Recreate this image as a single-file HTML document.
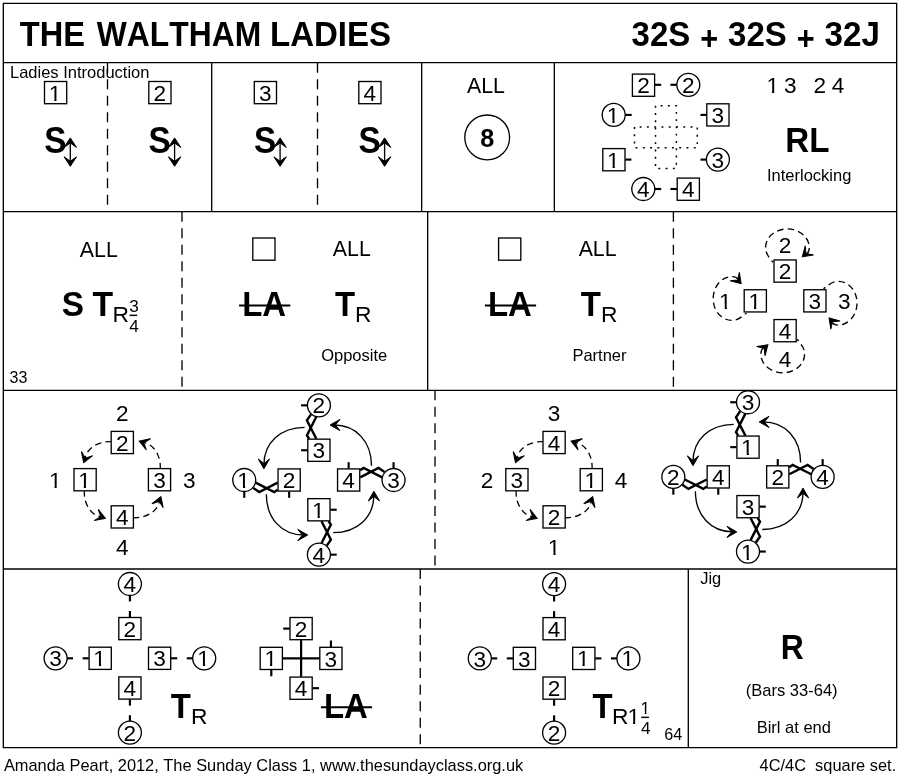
<!DOCTYPE html>
<html lang="en">
<head>
<meta charset="utf-8">
<title>The Waltham Ladies</title>
<style>
html,body{margin:0;padding:0;background:#fff;}
body{width:900px;height:780px;overflow:hidden;}
svg{display:block;font-family:"Liberation Sans", sans-serif;font-kerning:none;will-change:transform;}
svg line,svg rect,svg circle,svg path{stroke:#000;}
svg text{fill:#000;stroke:none;}
</style>
</head>
<body>
<svg width="900" height="780" viewBox="0 0 900 780">
<rect x="0" y="0" width="900" height="780" fill="#fff" stroke="none" style="stroke:none"/>
<defs>
<clipPath id="one17_2" clipPathUnits="userSpaceOnUse"><path d="M-15 -17.20 H15 V-2.18 H1.16 V3 H-0.56 V-2.18 H-15 Z"/></clipPath>
<clipPath id="one22_6" clipPathUnits="userSpaceOnUse"><path d="M-15 -22.60 H15 V-2.59 H1.50 V3 H-0.70 V-2.59 H-15 Z"/></clipPath>
</defs>
<rect x="3.33" y="3.33" width="893.34" height="744.34" fill="none" stroke-width="1.33" stroke-linejoin="round"/>
<line x1="3.33" y1="62.67" x2="896.67" y2="62.67" stroke-width="1.33" />
<line x1="3.33" y1="211.67" x2="896.67" y2="211.67" stroke-width="1.33" />
<line x1="3.33" y1="390.33" x2="896.67" y2="390.33" stroke-width="1.33" />
<line x1="3.33" y1="569.00" x2="896.67" y2="569.00" stroke-width="1.33" />
<line x1="211.70" y1="62.67" x2="211.70" y2="211.67" stroke-width="1.33" />
<line x1="421.67" y1="62.67" x2="421.67" y2="211.67" stroke-width="1.33" />
<line x1="554.33" y1="62.67" x2="554.33" y2="211.67" stroke-width="1.33" />
<line x1="107.50" y1="62.67" x2="107.50" y2="211.67" stroke-width="1.33" stroke-dasharray="10 6.52"/>
<line x1="317.50" y1="62.67" x2="317.50" y2="211.67" stroke-width="1.33" stroke-dasharray="10 6.52"/>
<line x1="427.67" y1="211.67" x2="427.67" y2="390.33" stroke-width="1.33" />
<line x1="182.00" y1="211.67" x2="182.00" y2="390.33" stroke-width="1.33" stroke-dasharray="10 6.52"/>
<line x1="673.40" y1="211.67" x2="673.40" y2="390.33" stroke-width="1.33" stroke-dasharray="10 6.52"/>
<line x1="435.00" y1="390.33" x2="435.00" y2="569.00" stroke-width="1.33" stroke-dasharray="10 6.52"/>
<line x1="420.25" y1="569.00" x2="420.25" y2="747.67" stroke-width="1.33" stroke-dasharray="10 6.52"/>
<line x1="688.30" y1="569.00" x2="688.30" y2="747.67" stroke-width="1.33" />
<text transform="translate(19.80 45.90) scale(0.9497 1)" font-size="34.3" font-weight="bold" text-anchor="start">THE</text>
<text transform="translate(96.80 45.90) scale(0.928 1)" font-size="34.3" font-weight="bold" text-anchor="start">WALTHAM</text>
<text transform="translate(270.00 45.90) scale(0.963 1)" font-size="34.3" font-weight="bold" text-anchor="start">LADIES</text>
<text transform="translate(631.60 45.90) scale(0.9623 1)" font-size="34.3" font-weight="bold" text-anchor="start">32S</text>
<text transform="translate(700.20 50.20) scale(0.93 1)" font-size="33.0" font-weight="bold" text-anchor="start">+</text>
<text transform="translate(728.10 45.90) scale(0.9623 1)" font-size="34.3" font-weight="bold" text-anchor="start">32S</text>
<text transform="translate(796.70 50.20) scale(0.93 1)" font-size="33.0" font-weight="bold" text-anchor="start">+</text>
<text transform="translate(824.60 45.90) scale(0.968 1)" font-size="34.3" font-weight="bold" text-anchor="start">32J</text>
<text x="10.00" y="77.60" font-size="16.5" text-anchor="start" >Ladies Introduction</text>
<rect x="44.50" y="81.50" width="22.2" height="22.2" fill="none" stroke-width="1.33"/>
<g transform="translate(55.00 101.00)" clip-path="url(#one22_6)"><text font-size="22.6" text-anchor="middle">1</text></g>
<text transform="translate(44.20 152.60) scale(0.9 1)" font-size="37" font-weight="bold" text-anchor="start">S</text>
<line x1="70.30" y1="141.00" x2="70.30" y2="163.00" stroke-width="1.33" />
<path d="M0 0 L-9.5 -6.2 L-5.0 0 L-9.5 6.2 Z" fill="#000" stroke="none" transform="translate(70.30 137.90) rotate(-90.00)"/>
<path d="M0 0 L-9.5 -6.2 L-5.0 0 L-9.5 6.2 Z" fill="#000" stroke="none" transform="translate(70.30 166.30) rotate(90.00)"/>
<rect x="148.80" y="81.50" width="22.2" height="22.2" fill="none" stroke-width="1.33"/>
<text x="159.90" y="100.70" font-size="22.6" text-anchor="middle" >2</text>
<text transform="translate(148.50 152.60) scale(0.9 1)" font-size="37" font-weight="bold" text-anchor="start">S</text>
<line x1="174.60" y1="141.00" x2="174.60" y2="163.00" stroke-width="1.33" />
<path d="M0 0 L-9.5 -6.2 L-5.0 0 L-9.5 6.2 Z" fill="#000" stroke="none" transform="translate(174.60 137.90) rotate(-90.00)"/>
<path d="M0 0 L-9.5 -6.2 L-5.0 0 L-9.5 6.2 Z" fill="#000" stroke="none" transform="translate(174.60 166.30) rotate(90.00)"/>
<rect x="254.30" y="81.50" width="22.2" height="22.2" fill="none" stroke-width="1.33"/>
<text x="265.40" y="100.70" font-size="22.6" text-anchor="middle" >3</text>
<text transform="translate(254.00 152.60) scale(0.9 1)" font-size="37" font-weight="bold" text-anchor="start">S</text>
<line x1="280.10" y1="141.00" x2="280.10" y2="163.00" stroke-width="1.33" />
<path d="M0 0 L-9.5 -6.2 L-5.0 0 L-9.5 6.2 Z" fill="#000" stroke="none" transform="translate(280.10 137.90) rotate(-90.00)"/>
<path d="M0 0 L-9.5 -6.2 L-5.0 0 L-9.5 6.2 Z" fill="#000" stroke="none" transform="translate(280.10 166.30) rotate(90.00)"/>
<rect x="358.80" y="81.50" width="22.2" height="22.2" fill="none" stroke-width="1.33"/>
<text x="369.90" y="100.70" font-size="22.6" text-anchor="middle" >4</text>
<text transform="translate(358.50 152.60) scale(0.9 1)" font-size="37" font-weight="bold" text-anchor="start">S</text>
<line x1="384.60" y1="141.00" x2="384.60" y2="163.00" stroke-width="1.33" />
<path d="M0 0 L-9.5 -6.2 L-5.0 0 L-9.5 6.2 Z" fill="#000" stroke="none" transform="translate(384.60 137.90) rotate(-90.00)"/>
<path d="M0 0 L-9.5 -6.2 L-5.0 0 L-9.5 6.2 Z" fill="#000" stroke="none" transform="translate(384.60 166.30) rotate(90.00)"/>
<text x="485.90" y="92.70" font-size="21.3" text-anchor="middle" >ALL</text>
<circle cx="487.2" cy="137.4" r="22.4" fill="none" stroke-width="1.33"/>
<text transform="translate(487.25 146.70) scale(0.97 1)" font-size="26" font-weight="bold" text-anchor="middle">8</text>
<rect x="632.40" y="74.10" width="22.2" height="22.2" fill="none" stroke-width="1.33"/>
<text x="643.50" y="93.30" font-size="22.6" text-anchor="middle" >2</text>
<line x1="654.60" y1="84.80" x2="661.20" y2="84.80" stroke-width="2.15" />
<circle cx="688.30" cy="84.80" r="11.5" fill="none" stroke-width="1.33"/>
<text x="688.30" y="92.90" font-size="22.6" text-anchor="middle" >2</text>
<line x1="670.40" y1="84.80" x2="676.80" y2="84.80" stroke-width="2.15" />
<circle cx="613.70" cy="114.90" r="11.5" fill="none" stroke-width="1.33"/>
<g transform="translate(613.10 123.00)" clip-path="url(#one22_6)"><text font-size="22.6" text-anchor="middle">1</text></g>
<line x1="625.30" y1="114.90" x2="631.70" y2="114.90" stroke-width="2.15" />
<rect x="706.80" y="103.80" width="22.2" height="22.2" fill="none" stroke-width="1.33"/>
<text x="717.90" y="123.00" font-size="22.6" text-anchor="middle" >3</text>
<line x1="700.50" y1="114.90" x2="706.70" y2="114.90" stroke-width="2.15" />
<rect x="602.80" y="148.60" width="22.2" height="22.2" fill="none" stroke-width="1.33"/>
<g transform="translate(613.30 168.00)" clip-path="url(#one22_6)"><text font-size="22.6" text-anchor="middle">1</text></g>
<line x1="625.30" y1="159.60" x2="631.40" y2="159.60" stroke-width="2.15" />
<circle cx="717.90" cy="159.60" r="11.5" fill="none" stroke-width="1.33"/>
<text x="717.90" y="167.70" font-size="22.6" text-anchor="middle" >3</text>
<line x1="700.50" y1="159.60" x2="706.40" y2="159.60" stroke-width="2.15" />
<circle cx="643.30" cy="189.00" r="11.5" fill="none" stroke-width="1.33"/>
<text x="643.30" y="197.10" font-size="22.6" text-anchor="middle" >4</text>
<line x1="654.80" y1="189.00" x2="661.20" y2="189.00" stroke-width="2.15" />
<rect x="677.20" y="178.10" width="22.2" height="22.2" fill="none" stroke-width="1.33"/>
<text x="688.30" y="197.30" font-size="22.6" text-anchor="middle" >4</text>
<line x1="670.40" y1="189.00" x2="676.90" y2="189.00" stroke-width="2.15" />
<path d="M655.5 105.8 V168.5 H676.4 V105.8 Z" fill="none" stroke-width="1.5" stroke-dasharray="1.9 5.38"/>
<path d="M634.5 127.0 V147.8 H697.3 V127.0 Z" fill="none" stroke-width="1.5" stroke-dasharray="1.9 5.38"/>
<g transform="translate(772.70 93.00)" clip-path="url(#one22_6)"><text font-size="22.6" text-anchor="middle">1</text></g>
<text x="790.30" y="93.00" font-size="22.6" text-anchor="middle" >3</text>
<text x="819.90" y="93.00" font-size="22.6" text-anchor="middle" >2</text>
<text x="838.10" y="93.00" font-size="22.6" text-anchor="middle" >4</text>
<text transform="translate(785.30 151.80) scale(0.967 1)" font-size="34.3" font-weight="bold" text-anchor="start">RL</text>
<text x="809.20" y="181.40" font-size="16.5" text-anchor="middle" >Interlocking</text>
<text x="98.80" y="256.50" font-size="21.3" text-anchor="middle" >ALL</text>
<text transform="translate(61.80 316.30) scale(0.94 1)" font-size="35.5" font-weight="bold" text-anchor="start">S</text>
<text transform="translate(92.60 316.00) scale(0.985 1)" font-size="34.3" font-weight="bold" text-anchor="start">T</text>
<text x="112.60" y="321.90" font-size="22.8" text-anchor="start" >R</text>
<text x="134.15" y="312.05" font-size="17.2" text-anchor="middle" >3</text>
<line x1="129.50" y1="315.35" x2="137.20" y2="315.35" stroke-width="1.45" />
<text x="134.15" y="331.80" font-size="17.2" text-anchor="middle" >4</text>
<text x="9.60" y="382.60" font-size="16" text-anchor="start" >33</text>
<rect x="252.80" y="238.00" width="22.2" height="22.2" fill="none" stroke-width="1.33"/>
<text x="351.80" y="256.30" font-size="21.3" text-anchor="middle" >ALL</text>
<text transform="translate(242.20 316.20) scale(0.96 1)" font-size="34.3" font-weight="bold" text-anchor="start">LA</text>
<line x1="239.10" y1="305.50" x2="290.30" y2="305.50" stroke-width="2.1" />
<text transform="translate(334.90 316.20) scale(0.96 1)" font-size="34.3" font-weight="bold" text-anchor="start">T</text>
<text x="355.10" y="322.00" font-size="22.8" text-anchor="start" >R</text>
<rect x="498.60" y="238.00" width="22.2" height="22.2" fill="none" stroke-width="1.33"/>
<text x="597.60" y="256.30" font-size="21.3" text-anchor="middle" >ALL</text>
<text transform="translate(488.00 316.20) scale(0.96 1)" font-size="34.3" font-weight="bold" text-anchor="start">LA</text>
<line x1="484.90" y1="305.50" x2="536.10" y2="305.50" stroke-width="2.1" />
<text transform="translate(580.70 316.20) scale(0.96 1)" font-size="34.3" font-weight="bold" text-anchor="start">T</text>
<text x="600.90" y="322.00" font-size="22.8" text-anchor="start" >R</text>
<text x="354.20" y="360.50" font-size="16.5" text-anchor="middle" >Opposite</text>
<text x="599.50" y="360.50" font-size="16.5" text-anchor="middle" >Partner</text>
<rect x="774.00" y="259.95" width="22.2" height="22.2" fill="none" stroke-width="1.33"/>
<text x="785.10" y="279.15" font-size="22.6" text-anchor="middle" >2</text>
<rect x="744.20" y="289.75" width="22.2" height="22.2" fill="none" stroke-width="1.33"/>
<g transform="translate(754.70 309.00)" clip-path="url(#one22_6)"><text font-size="22.6" text-anchor="middle">1</text></g>
<rect x="803.80" y="289.75" width="22.2" height="22.2" fill="none" stroke-width="1.33"/>
<text x="814.90" y="308.95" font-size="22.6" text-anchor="middle" >3</text>
<rect x="774.00" y="319.55" width="22.2" height="22.2" fill="none" stroke-width="1.33"/>
<text x="785.10" y="338.75" font-size="22.6" text-anchor="middle" >4</text>
<text x="785.10" y="253.25" font-size="22.6" text-anchor="middle" >2</text>
<g transform="translate(725.40 309.00)" clip-path="url(#one22_6)"><text font-size="22.6" text-anchor="middle">1</text></g>
<text x="844.30" y="309.45" font-size="22.6" text-anchor="middle" >3</text>
<text x="785.10" y="366.55" font-size="22.6" text-anchor="middle" >4</text>
<g transform="translate(785.1 300.85) rotate(0)">
<path d="M-12.1 -38.4 C-15.1 -42.7 -19.5 -46.7 -19.5 -53.2 C-19.5 -63.7 -9.8 -71.9 2.1 -71.9 C14.2 -71.9 24.2 -63.7 24.2 -53.2 C24.2 -49.7 23.4 -48.2 21.6 -47.1" fill="none" stroke-width="1.33" stroke-dasharray="6.5 4.1" stroke-dashoffset="4.1"/>
<path d="M0 0 L-9.5 -6.2 L-5.0 0 L-9.5 6.2 Z" fill="#000" stroke="none" transform="translate(17.20 -44.00) rotate(138.00)"/>
</g>
<g transform="translate(785.1 300.85) rotate(-90)">
<path d="M-12.1 -38.4 C-15.1 -42.7 -19.5 -46.7 -19.5 -53.2 C-19.5 -63.7 -9.8 -71.9 2.1 -71.9 C14.2 -71.9 24.2 -63.7 24.2 -53.2 C24.2 -49.7 23.4 -48.2 21.6 -47.1" fill="none" stroke-width="1.33" stroke-dasharray="6.5 4.1" stroke-dashoffset="4.1"/>
<path d="M0 0 L-9.5 -6.2 L-5.0 0 L-9.5 6.2 Z" fill="#000" stroke="none" transform="translate(17.20 -44.00) rotate(138.00)"/>
</g>
<g transform="translate(785.1 300.85) rotate(180)">
<path d="M-12.1 -38.4 C-15.1 -42.7 -19.5 -46.7 -19.5 -53.2 C-19.5 -63.7 -9.8 -71.9 2.1 -71.9 C14.2 -71.9 24.2 -63.7 24.2 -53.2 C24.2 -49.7 23.4 -48.2 21.6 -47.1" fill="none" stroke-width="1.33" stroke-dasharray="6.5 4.1" stroke-dashoffset="4.1"/>
<path d="M0 0 L-9.5 -6.2 L-5.0 0 L-9.5 6.2 Z" fill="#000" stroke="none" transform="translate(17.20 -44.00) rotate(138.00)"/>
</g>
<g transform="translate(785.1 300.85) rotate(90)">
<path d="M-12.1 -38.4 C-15.1 -42.7 -19.5 -46.7 -19.5 -53.2 C-19.5 -63.7 -9.8 -71.9 2.1 -71.9 C14.2 -71.9 24.2 -63.7 24.2 -53.2 C24.2 -49.7 23.4 -48.2 21.6 -47.1" fill="none" stroke-width="1.33" stroke-dasharray="6.5 4.1" stroke-dashoffset="4.1"/>
<path d="M0 0 L-9.5 -6.2 L-5.0 0 L-9.5 6.2 Z" fill="#000" stroke="none" transform="translate(17.20 -44.00) rotate(138.00)"/>
</g>
<rect x="111.20" y="431.40" width="22.2" height="22.2" fill="none" stroke-width="1.33"/>
<text x="122.30" y="450.60" font-size="22.6" text-anchor="middle" >2</text>
<rect x="74.00" y="468.60" width="22.2" height="22.2" fill="none" stroke-width="1.33"/>
<g transform="translate(84.50 488.00)" clip-path="url(#one22_6)"><text font-size="22.6" text-anchor="middle">1</text></g>
<rect x="148.40" y="468.60" width="22.2" height="22.2" fill="none" stroke-width="1.33"/>
<text x="159.50" y="487.80" font-size="22.6" text-anchor="middle" >3</text>
<rect x="111.20" y="505.80" width="22.2" height="22.2" fill="none" stroke-width="1.33"/>
<text x="122.30" y="525.00" font-size="22.6" text-anchor="middle" >4</text>
<text x="122.30" y="421.00" font-size="22.6" text-anchor="middle" >2</text>
<g transform="translate(55.20 488.00)" clip-path="url(#one22_6)"><text font-size="22.6" text-anchor="middle">1</text></g>
<text x="189.30" y="488.10" font-size="22.6" text-anchor="middle" >3</text>
<text x="122.30" y="555.40" font-size="22.6" text-anchor="middle" >4</text>
<g transform="rotate(0 122.3 479.7)">
<path d="M110.80 441.70 C96.30 441.20 85.80 450.20 85.30 458.30" fill="none" stroke-width="1.33" stroke-dasharray="6.3 4.2" stroke-dashoffset="0.9"/>
<path d="M0 0 L-9.7 -6.0 L-4.8 0 L-9.7 6.0 Z" fill="#000" stroke="none" transform="translate(83.70 462.70) rotate(110.00)"/>
</g>
<g transform="rotate(-90 122.3 479.7)">
<path d="M110.80 441.70 C96.30 441.20 85.80 450.20 85.30 458.30" fill="none" stroke-width="1.33" stroke-dasharray="6.3 4.2" stroke-dashoffset="0.9"/>
<path d="M0 0 L-9.7 -6.0 L-4.8 0 L-9.7 6.0 Z" fill="#000" stroke="none" transform="translate(83.70 462.70) rotate(110.00)"/>
</g>
<g transform="rotate(180 122.3 479.7)">
<path d="M110.80 441.70 C96.30 441.20 85.80 450.20 85.30 458.30" fill="none" stroke-width="1.33" stroke-dasharray="6.3 4.2" stroke-dashoffset="0.9"/>
<path d="M0 0 L-9.7 -6.0 L-4.8 0 L-9.7 6.0 Z" fill="#000" stroke="none" transform="translate(83.70 462.70) rotate(110.00)"/>
</g>
<g transform="rotate(90 122.3 479.7)">
<path d="M110.80 441.70 C96.30 441.20 85.80 450.20 85.30 458.30" fill="none" stroke-width="1.33" stroke-dasharray="6.3 4.2" stroke-dashoffset="0.9"/>
<path d="M0 0 L-9.7 -6.0 L-4.8 0 L-9.7 6.0 Z" fill="#000" stroke="none" transform="translate(83.70 462.70) rotate(110.00)"/>
</g>
<rect x="543.00" y="431.40" width="22.2" height="22.2" fill="none" stroke-width="1.33"/>
<text x="554.10" y="450.60" font-size="22.6" text-anchor="middle" >4</text>
<rect x="505.80" y="468.60" width="22.2" height="22.2" fill="none" stroke-width="1.33"/>
<text x="516.90" y="487.80" font-size="22.6" text-anchor="middle" >3</text>
<rect x="580.20" y="468.60" width="22.2" height="22.2" fill="none" stroke-width="1.33"/>
<g transform="translate(590.70 488.00)" clip-path="url(#one22_6)"><text font-size="22.6" text-anchor="middle">1</text></g>
<rect x="543.00" y="505.80" width="22.2" height="22.2" fill="none" stroke-width="1.33"/>
<text x="554.10" y="525.00" font-size="22.6" text-anchor="middle" >2</text>
<text x="554.10" y="421.00" font-size="22.6" text-anchor="middle" >3</text>
<text x="487.00" y="488.10" font-size="22.6" text-anchor="middle" >2</text>
<text x="621.10" y="488.10" font-size="22.6" text-anchor="middle" >4</text>
<g transform="translate(554.10 555.00)" clip-path="url(#one22_6)"><text font-size="22.6" text-anchor="middle">1</text></g>
<g transform="rotate(0 554.1 479.7)">
<path d="M542.60 441.70 C528.10 441.20 517.60 450.20 517.10 458.30" fill="none" stroke-width="1.33" stroke-dasharray="6.3 4.2" stroke-dashoffset="0.9"/>
<path d="M0 0 L-9.7 -6.0 L-4.8 0 L-9.7 6.0 Z" fill="#000" stroke="none" transform="translate(515.50 462.70) rotate(110.00)"/>
</g>
<g transform="rotate(-90 554.1 479.7)">
<path d="M542.60 441.70 C528.10 441.20 517.60 450.20 517.10 458.30" fill="none" stroke-width="1.33" stroke-dasharray="6.3 4.2" stroke-dashoffset="0.9"/>
<path d="M0 0 L-9.7 -6.0 L-4.8 0 L-9.7 6.0 Z" fill="#000" stroke="none" transform="translate(515.50 462.70) rotate(110.00)"/>
</g>
<g transform="rotate(180 554.1 479.7)">
<path d="M542.60 441.70 C528.10 441.20 517.60 450.20 517.10 458.30" fill="none" stroke-width="1.33" stroke-dasharray="6.3 4.2" stroke-dashoffset="0.9"/>
<path d="M0 0 L-9.7 -6.0 L-4.8 0 L-9.7 6.0 Z" fill="#000" stroke="none" transform="translate(515.50 462.70) rotate(110.00)"/>
</g>
<g transform="rotate(90 554.1 479.7)">
<path d="M542.60 441.70 C528.10 441.20 517.60 450.20 517.10 458.30" fill="none" stroke-width="1.33" stroke-dasharray="6.3 4.2" stroke-dashoffset="0.9"/>
<path d="M0 0 L-9.7 -6.0 L-4.8 0 L-9.7 6.0 Z" fill="#000" stroke="none" transform="translate(515.50 462.70) rotate(110.00)"/>
</g>
<g transform="rotate(0 318.9 480.0)">
<circle cx="318.90" cy="405.35" r="11.5" fill="none" stroke-width="1.33"/>
<rect x="307.80" y="439.15" width="22.2" height="22.2" fill="none" stroke-width="1.33"/>
<line x1="301.10" y1="405.35" x2="307.20" y2="405.35" stroke-width="2.15" />
<line x1="301.10" y1="450.25" x2="307.40" y2="450.25" stroke-width="2.15" />
<path d="M311.00 414.35 L306.90 420.35 L316.30 438.75" fill="none" stroke-width="2.4" stroke-linejoin="miter"/>
<path d="M316.30 416.75 L306.90 435.35 L309.20 438.75" fill="none" stroke-width="2.4" stroke-linejoin="miter"/>
<path d="M304.60 427.40 C280.60 427.40 263.90 442.80 263.90 464.80" fill="none" stroke-width="1.33"/>
<path d="M0 0 L-9.8 -5.6 L-5.3 0 L-9.8 5.6 Z" fill="#000" stroke="none" transform="translate(263.90 468.80) rotate(90.00)"/>
</g>
<g transform="rotate(-90 318.9 480.0)">
<circle cx="318.90" cy="405.35" r="11.5" fill="none" stroke-width="1.33"/>
<rect x="307.80" y="439.15" width="22.2" height="22.2" fill="none" stroke-width="1.33"/>
<line x1="301.10" y1="405.35" x2="307.20" y2="405.35" stroke-width="2.15" />
<line x1="301.10" y1="450.25" x2="307.40" y2="450.25" stroke-width="2.15" />
<path d="M311.00 414.35 L306.90 420.35 L316.30 438.75" fill="none" stroke-width="2.4" stroke-linejoin="miter"/>
<path d="M316.30 416.75 L306.90 435.35 L309.20 438.75" fill="none" stroke-width="2.4" stroke-linejoin="miter"/>
<path d="M304.60 427.40 C280.60 427.40 263.90 442.80 263.90 464.80" fill="none" stroke-width="1.33"/>
<path d="M0 0 L-9.8 -5.6 L-5.3 0 L-9.8 5.6 Z" fill="#000" stroke="none" transform="translate(263.90 468.80) rotate(90.00)"/>
</g>
<g transform="rotate(180 318.9 480.0)">
<circle cx="318.90" cy="405.35" r="11.5" fill="none" stroke-width="1.33"/>
<rect x="307.80" y="439.15" width="22.2" height="22.2" fill="none" stroke-width="1.33"/>
<line x1="301.10" y1="405.35" x2="307.20" y2="405.35" stroke-width="2.15" />
<line x1="301.10" y1="450.25" x2="307.40" y2="450.25" stroke-width="2.15" />
<path d="M311.00 414.35 L306.90 420.35 L316.30 438.75" fill="none" stroke-width="2.4" stroke-linejoin="miter"/>
<path d="M316.30 416.75 L306.90 435.35 L309.20 438.75" fill="none" stroke-width="2.4" stroke-linejoin="miter"/>
<path d="M304.60 427.40 C280.60 427.40 263.90 442.80 263.90 464.80" fill="none" stroke-width="1.33"/>
<path d="M0 0 L-9.8 -5.6 L-5.3 0 L-9.8 5.6 Z" fill="#000" stroke="none" transform="translate(263.90 468.80) rotate(90.00)"/>
</g>
<g transform="rotate(90 318.9 480.0)">
<circle cx="318.90" cy="405.35" r="11.5" fill="none" stroke-width="1.33"/>
<rect x="307.80" y="439.15" width="22.2" height="22.2" fill="none" stroke-width="1.33"/>
<line x1="301.10" y1="405.35" x2="307.20" y2="405.35" stroke-width="2.15" />
<line x1="301.10" y1="450.25" x2="307.40" y2="450.25" stroke-width="2.15" />
<path d="M311.00 414.35 L306.90 420.35 L316.30 438.75" fill="none" stroke-width="2.4" stroke-linejoin="miter"/>
<path d="M316.30 416.75 L306.90 435.35 L309.20 438.75" fill="none" stroke-width="2.4" stroke-linejoin="miter"/>
<path d="M304.60 427.40 C280.60 427.40 263.90 442.80 263.90 464.80" fill="none" stroke-width="1.33"/>
<path d="M0 0 L-9.8 -5.6 L-5.3 0 L-9.8 5.6 Z" fill="#000" stroke="none" transform="translate(263.90 468.80) rotate(90.00)"/>
</g>
<text x="318.90" y="413.45" font-size="22.6" text-anchor="middle" >2</text>
<g transform="translate(243.65 488.00)" clip-path="url(#one22_6)"><text font-size="22.6" text-anchor="middle">1</text></g>
<text x="393.55" y="488.10" font-size="22.6" text-anchor="middle" >3</text>
<text x="318.90" y="562.75" font-size="22.6" text-anchor="middle" >4</text>
<text x="318.90" y="458.35" font-size="22.6" text-anchor="middle" >3</text>
<text x="289.15" y="488.10" font-size="22.6" text-anchor="middle" >2</text>
<text x="348.65" y="488.10" font-size="22.6" text-anchor="middle" >4</text>
<g transform="translate(318.30 518.00)" clip-path="url(#one22_6)"><text font-size="22.6" text-anchor="middle">1</text></g>
<g transform="rotate(0 748.0 476.9)">
<circle cx="748.00" cy="402.25" r="11.5" fill="none" stroke-width="1.33"/>
<rect x="736.90" y="436.05" width="22.2" height="22.2" fill="none" stroke-width="1.33"/>
<line x1="730.20" y1="402.25" x2="736.30" y2="402.25" stroke-width="2.15" />
<line x1="730.20" y1="447.15" x2="736.50" y2="447.15" stroke-width="2.15" />
<path d="M740.10 411.25 L736.00 417.25 L745.40 435.65" fill="none" stroke-width="2.4" stroke-linejoin="miter"/>
<path d="M745.40 413.65 L736.00 432.25 L738.30 435.65" fill="none" stroke-width="2.4" stroke-linejoin="miter"/>
<path d="M733.70 424.30 C709.70 424.30 693.00 439.70 693.00 461.70" fill="none" stroke-width="1.33"/>
<path d="M0 0 L-9.8 -5.6 L-5.3 0 L-9.8 5.6 Z" fill="#000" stroke="none" transform="translate(693.00 465.70) rotate(90.00)"/>
</g>
<g transform="rotate(-90 748.0 476.9)">
<circle cx="748.00" cy="402.25" r="11.5" fill="none" stroke-width="1.33"/>
<rect x="736.90" y="436.05" width="22.2" height="22.2" fill="none" stroke-width="1.33"/>
<line x1="730.20" y1="402.25" x2="736.30" y2="402.25" stroke-width="2.15" />
<line x1="730.20" y1="447.15" x2="736.50" y2="447.15" stroke-width="2.15" />
<path d="M740.10 411.25 L736.00 417.25 L745.40 435.65" fill="none" stroke-width="2.4" stroke-linejoin="miter"/>
<path d="M745.40 413.65 L736.00 432.25 L738.30 435.65" fill="none" stroke-width="2.4" stroke-linejoin="miter"/>
<path d="M733.70 424.30 C709.70 424.30 693.00 439.70 693.00 461.70" fill="none" stroke-width="1.33"/>
<path d="M0 0 L-9.8 -5.6 L-5.3 0 L-9.8 5.6 Z" fill="#000" stroke="none" transform="translate(693.00 465.70) rotate(90.00)"/>
</g>
<g transform="rotate(180 748.0 476.9)">
<circle cx="748.00" cy="402.25" r="11.5" fill="none" stroke-width="1.33"/>
<rect x="736.90" y="436.05" width="22.2" height="22.2" fill="none" stroke-width="1.33"/>
<line x1="730.20" y1="402.25" x2="736.30" y2="402.25" stroke-width="2.15" />
<line x1="730.20" y1="447.15" x2="736.50" y2="447.15" stroke-width="2.15" />
<path d="M740.10 411.25 L736.00 417.25 L745.40 435.65" fill="none" stroke-width="2.4" stroke-linejoin="miter"/>
<path d="M745.40 413.65 L736.00 432.25 L738.30 435.65" fill="none" stroke-width="2.4" stroke-linejoin="miter"/>
<path d="M733.70 424.30 C709.70 424.30 693.00 439.70 693.00 461.70" fill="none" stroke-width="1.33"/>
<path d="M0 0 L-9.8 -5.6 L-5.3 0 L-9.8 5.6 Z" fill="#000" stroke="none" transform="translate(693.00 465.70) rotate(90.00)"/>
</g>
<g transform="rotate(90 748.0 476.9)">
<circle cx="748.00" cy="402.25" r="11.5" fill="none" stroke-width="1.33"/>
<rect x="736.90" y="436.05" width="22.2" height="22.2" fill="none" stroke-width="1.33"/>
<line x1="730.20" y1="402.25" x2="736.30" y2="402.25" stroke-width="2.15" />
<line x1="730.20" y1="447.15" x2="736.50" y2="447.15" stroke-width="2.15" />
<path d="M740.10 411.25 L736.00 417.25 L745.40 435.65" fill="none" stroke-width="2.4" stroke-linejoin="miter"/>
<path d="M745.40 413.65 L736.00 432.25 L738.30 435.65" fill="none" stroke-width="2.4" stroke-linejoin="miter"/>
<path d="M733.70 424.30 C709.70 424.30 693.00 439.70 693.00 461.70" fill="none" stroke-width="1.33"/>
<path d="M0 0 L-9.8 -5.6 L-5.3 0 L-9.8 5.6 Z" fill="#000" stroke="none" transform="translate(693.00 465.70) rotate(90.00)"/>
</g>
<text x="748.00" y="410.35" font-size="22.6" text-anchor="middle" >3</text>
<text x="673.35" y="485.00" font-size="22.6" text-anchor="middle" >2</text>
<text x="822.65" y="485.00" font-size="22.6" text-anchor="middle" >4</text>
<g transform="translate(747.40 560.00)" clip-path="url(#one22_6)"><text font-size="22.6" text-anchor="middle">1</text></g>
<g transform="translate(747.40 455.00)" clip-path="url(#one22_6)"><text font-size="22.6" text-anchor="middle">1</text></g>
<text x="718.25" y="485.00" font-size="22.6" text-anchor="middle" >4</text>
<text x="777.75" y="485.00" font-size="22.6" text-anchor="middle" >2</text>
<text x="748.00" y="514.75" font-size="22.6" text-anchor="middle" >3</text>
<g transform="rotate(0 129.9 658.3)">
<circle cx="129.90" cy="584.00" r="11.5" fill="none" stroke-width="1.33"/>
<rect x="118.80" y="617.50" width="22.2" height="22.2" fill="none" stroke-width="1.33"/>
<line x1="129.90" y1="595.50" x2="129.90" y2="601.40" stroke-width="2.15" />
<line x1="129.90" y1="617.20" x2="129.90" y2="611.00" stroke-width="2.15" />
</g>
<g transform="rotate(-90 129.9 658.3)">
<circle cx="129.90" cy="584.00" r="11.5" fill="none" stroke-width="1.33"/>
<rect x="118.80" y="617.50" width="22.2" height="22.2" fill="none" stroke-width="1.33"/>
<line x1="129.90" y1="595.50" x2="129.90" y2="601.40" stroke-width="2.15" />
<line x1="129.90" y1="617.20" x2="129.90" y2="611.00" stroke-width="2.15" />
</g>
<g transform="rotate(180 129.9 658.3)">
<circle cx="129.90" cy="584.00" r="11.5" fill="none" stroke-width="1.33"/>
<rect x="118.80" y="617.50" width="22.2" height="22.2" fill="none" stroke-width="1.33"/>
<line x1="129.90" y1="595.50" x2="129.90" y2="601.40" stroke-width="2.15" />
<line x1="129.90" y1="617.20" x2="129.90" y2="611.00" stroke-width="2.15" />
</g>
<g transform="rotate(90 129.9 658.3)">
<circle cx="129.90" cy="584.00" r="11.5" fill="none" stroke-width="1.33"/>
<rect x="118.80" y="617.50" width="22.2" height="22.2" fill="none" stroke-width="1.33"/>
<line x1="129.90" y1="595.50" x2="129.90" y2="601.40" stroke-width="2.15" />
<line x1="129.90" y1="617.20" x2="129.90" y2="611.00" stroke-width="2.15" />
</g>
<text x="129.90" y="592.10" font-size="22.6" text-anchor="middle" >4</text>
<text x="55.60" y="666.40" font-size="22.6" text-anchor="middle" >3</text>
<g transform="translate(203.60 666.00)" clip-path="url(#one22_6)"><text font-size="22.6" text-anchor="middle">1</text></g>
<text x="129.90" y="740.70" font-size="22.6" text-anchor="middle" >2</text>
<text x="129.90" y="636.70" font-size="22.6" text-anchor="middle" >2</text>
<g transform="translate(99.60 666.00)" clip-path="url(#one22_6)"><text font-size="22.6" text-anchor="middle">1</text></g>
<text x="159.60" y="666.40" font-size="22.6" text-anchor="middle" >3</text>
<text x="129.90" y="696.10" font-size="22.6" text-anchor="middle" >4</text>
<text transform="translate(170.80 718.00) scale(0.96 1)" font-size="34.3" font-weight="bold" text-anchor="start">T</text>
<text x="191.00" y="723.80" font-size="22.8" text-anchor="start" >R</text>
<g transform="rotate(0 554.1 658.4)">
<circle cx="554.10" cy="584.10" r="11.5" fill="none" stroke-width="1.33"/>
<rect x="543.00" y="617.60" width="22.2" height="22.2" fill="none" stroke-width="1.33"/>
<line x1="554.10" y1="595.60" x2="554.10" y2="601.50" stroke-width="2.15" />
<line x1="554.10" y1="617.30" x2="554.10" y2="611.10" stroke-width="2.15" />
</g>
<g transform="rotate(-90 554.1 658.4)">
<circle cx="554.10" cy="584.10" r="11.5" fill="none" stroke-width="1.33"/>
<rect x="543.00" y="617.60" width="22.2" height="22.2" fill="none" stroke-width="1.33"/>
<line x1="554.10" y1="595.60" x2="554.10" y2="601.50" stroke-width="2.15" />
<line x1="554.10" y1="617.30" x2="554.10" y2="611.10" stroke-width="2.15" />
</g>
<g transform="rotate(180 554.1 658.4)">
<circle cx="554.10" cy="584.10" r="11.5" fill="none" stroke-width="1.33"/>
<rect x="543.00" y="617.60" width="22.2" height="22.2" fill="none" stroke-width="1.33"/>
<line x1="554.10" y1="595.60" x2="554.10" y2="601.50" stroke-width="2.15" />
<line x1="554.10" y1="617.30" x2="554.10" y2="611.10" stroke-width="2.15" />
</g>
<g transform="rotate(90 554.1 658.4)">
<circle cx="554.10" cy="584.10" r="11.5" fill="none" stroke-width="1.33"/>
<rect x="543.00" y="617.60" width="22.2" height="22.2" fill="none" stroke-width="1.33"/>
<line x1="554.10" y1="595.60" x2="554.10" y2="601.50" stroke-width="2.15" />
<line x1="554.10" y1="617.30" x2="554.10" y2="611.10" stroke-width="2.15" />
</g>
<text x="554.10" y="592.20" font-size="22.6" text-anchor="middle" >4</text>
<text x="479.80" y="666.50" font-size="22.6" text-anchor="middle" >3</text>
<g transform="translate(627.80 666.00)" clip-path="url(#one22_6)"><text font-size="22.6" text-anchor="middle">1</text></g>
<text x="554.10" y="740.80" font-size="22.6" text-anchor="middle" >2</text>
<text x="554.10" y="636.80" font-size="22.6" text-anchor="middle" >4</text>
<text x="524.40" y="666.50" font-size="22.6" text-anchor="middle" >3</text>
<g transform="translate(583.20 666.00)" clip-path="url(#one22_6)"><text font-size="22.6" text-anchor="middle">1</text></g>
<text x="554.10" y="696.20" font-size="22.6" text-anchor="middle" >2</text>
<g transform="rotate(0 301.1 658.4)">
<rect x="290.00" y="617.50" width="22.2" height="22.2" fill="none" stroke-width="1.33"/>
<line x1="283.20" y1="628.60" x2="289.70" y2="628.60" stroke-width="2.15" />
</g>
<g transform="rotate(-90 301.1 658.4)">
<rect x="290.00" y="617.50" width="22.2" height="22.2" fill="none" stroke-width="1.33"/>
<line x1="283.20" y1="628.60" x2="289.70" y2="628.60" stroke-width="2.15" />
</g>
<g transform="rotate(180 301.1 658.4)">
<rect x="290.00" y="617.50" width="22.2" height="22.2" fill="none" stroke-width="1.33"/>
<line x1="283.20" y1="628.60" x2="289.70" y2="628.60" stroke-width="2.15" />
</g>
<g transform="rotate(90 301.1 658.4)">
<rect x="290.00" y="617.50" width="22.2" height="22.2" fill="none" stroke-width="1.33"/>
<line x1="283.20" y1="628.60" x2="289.70" y2="628.60" stroke-width="2.15" />
</g>
<text x="301.10" y="636.70" font-size="22.6" text-anchor="middle" >2</text>
<g transform="translate(270.70 666.00)" clip-path="url(#one22_6)"><text font-size="22.6" text-anchor="middle">1</text></g>
<text x="330.90" y="666.50" font-size="22.6" text-anchor="middle" >3</text>
<text x="301.10" y="696.30" font-size="22.6" text-anchor="middle" >4</text>
<line x1="301.10" y1="640.00" x2="301.10" y2="676.80" stroke-width="2.2" />
<line x1="282.70" y1="658.40" x2="319.50" y2="658.40" stroke-width="2.2" />
<text transform="translate(324.00 717.90) scale(0.96 1)" font-size="34.3" font-weight="bold" text-anchor="start">LA</text>
<line x1="320.90" y1="707.20" x2="372.10" y2="707.20" stroke-width="2.1" />
<text transform="translate(592.50 717.90) scale(0.96 1)" font-size="34.3" font-weight="bold" text-anchor="start">T</text>
<text x="611.90" y="723.90" font-size="22.8" text-anchor="start" >R</text>
<g transform="translate(633.70 724.00)" clip-path="url(#one22_6)"><text font-size="22.6" text-anchor="middle">1</text></g>
<g transform="translate(645.30 714.00)" clip-path="url(#one17_2)"><text font-size="17.2" text-anchor="middle">1</text></g>
<line x1="641.25" y1="717.35" x2="648.95" y2="717.35" stroke-width="1.45" />
<text x="645.90" y="733.80" font-size="17.2" text-anchor="middle" >4</text>
<text x="664.30" y="740.20" font-size="16.2" text-anchor="start" >64</text>
<text x="700.20" y="584.40" font-size="16.5" text-anchor="start" >Jig</text>
<text transform="translate(780.70 658.80) scale(0.93 1)" font-size="34.3" font-weight="bold" text-anchor="start">R</text>
<text x="791.70" y="696.00" font-size="16.55" text-anchor="middle" >(Bars 33-64)</text>
<text x="793.80" y="733.20" font-size="16.5" text-anchor="middle" >Birl at end</text>
<text x="3.90" y="770.90" font-size="16.4" text-anchor="start" >Amanda Peart, 2012, The Sunday Class 1, www.thesundayclass.org.uk</text>
<text x="896.20" y="771.00" font-size="16.4" text-anchor="end" xml:space="preserve">4C/4C&#160; square set.</text>
</svg>
</body>
</html>
